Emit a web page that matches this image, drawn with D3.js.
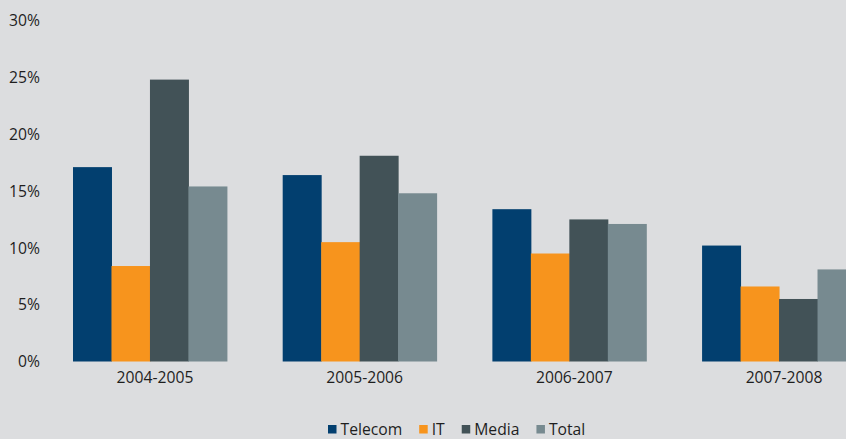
<!DOCTYPE html>
<html>
<head>
<meta charset="utf-8">
<script src="https://cdn.jsdelivr.net/npm/d3@7"></script>
<style>
  html, body { margin: 0; padding: 0; background: #dcdddf; }
  svg { display: block; }
  text { font-family: "Open Sans", "Noto Sans", sans-serif; fill: #1e1e1e; }
</style>
</head>
<body>
<svg id="chart" width="846" height="439"></svg>
<script>
// Growth rates by sector and period (percent)
const periods = ["2004-2005", "2005-2006", "2006-2007", "2007-2008"];
const seriesNames = ["Telecom", "IT", "Media", "Total"];
const telecom = [17.1, 16.4, 13.4, 10.2];
const it = [8.4, 10.5, 9.5, 6.6];
const media = [24.8, 18.1, 12.5, 5.5];
const total = [15.4, 14.8, 12.1, 8.1];
const yTicks = [0, 5, 10, 15, 20, 25, 30];
const colors = ["#023f6f", "#f7941d", "#425257", "#778a90"];

const fontSize = 15.7;

const seriesValues = [telecom, it, media, total];
const rows = periods.map((p, i) => ({
  period: p,
  values: seriesNames.map((s, j) => ({ key: s, value: seriesValues[j][i] }))
}));

const svg = d3.select("#chart");

const y = d3.scaleLinear().domain([0, 30]).range([361.5, 20.5]);

const x0 = d3.scaleBand()
  .domain(periods)
  .range([73, 856])
  .paddingInner(0.266)
  .paddingOuter(0);

const x1 = d3.scaleBand()
  .domain(seriesNames)
  .range([0, x0.bandwidth()])
  .padding(0);

const color = d3.scaleOrdinal().domain(seriesNames).range(colors);

// Bars
svg.append("g")
  .selectAll("g")
  .data(rows)
  .join("g")
  .attr("transform", d => `translate(${x0(d.period)},0)`)
  .selectAll("rect")
  .data(d => d.values)
  .join("rect")
  .attr("x", d => x1(d.key))
  .attr("width", x1.bandwidth() + 0.5)
  .attr("y", d => y(d.value))
  .attr("height", d => y(0) - y(d.value))
  .attr("fill", d => color(d.key));

// Y axis (labels only)
const yAxis = svg.append("g")
  .attr("transform", "translate(40,0)")
  .call(d3.axisLeft(y).tickValues(yTicks).tickSize(0).tickPadding(0)
    .tickFormat(d => d + "%"));
yAxis.select(".domain").remove();
yAxis.selectAll("text")
  .attr("font-size", fontSize)
  .style("font-family", "\"Open Sans\", sans-serif")
  .attr("fill", "#1e1e1e")
  .attr("dy", "0.33em");

// X axis (labels only)
const xAxis = svg.append("g")
  .attr("transform", "translate(5,372)")
  .call(d3.axisBottom(x0).tickSize(0).tickPadding(0));
xAxis.select(".domain").remove();
xAxis.selectAll("text")
  .attr("font-size", fontSize)
  .style("font-family", "\"Open Sans\", sans-serif")
  .attr("fill", "#1e1e1e")
  .attr("dy", "0.71em");

// Legend
const legend = svg.append("g").attr("transform", "translate(328,0)");
let lx = 0;
seriesNames.forEach((name) => {
  const item = legend.append("g").attr("transform", `translate(${lx},0)`);
  item.append("rect")
    .attr("x", 0).attr("y", 425)
    .attr("width", 8.5).attr("height", 8.5)
    .attr("fill", color(name));
  const t = item.append("text")
    .attr("x", 12.5).attr("y", 434.5)
    .attr("font-size", fontSize)
    .text(name);
  lx += 12.5 + t.node().getComputedTextLength() + 17;
});
</script>
</body>
</html>
